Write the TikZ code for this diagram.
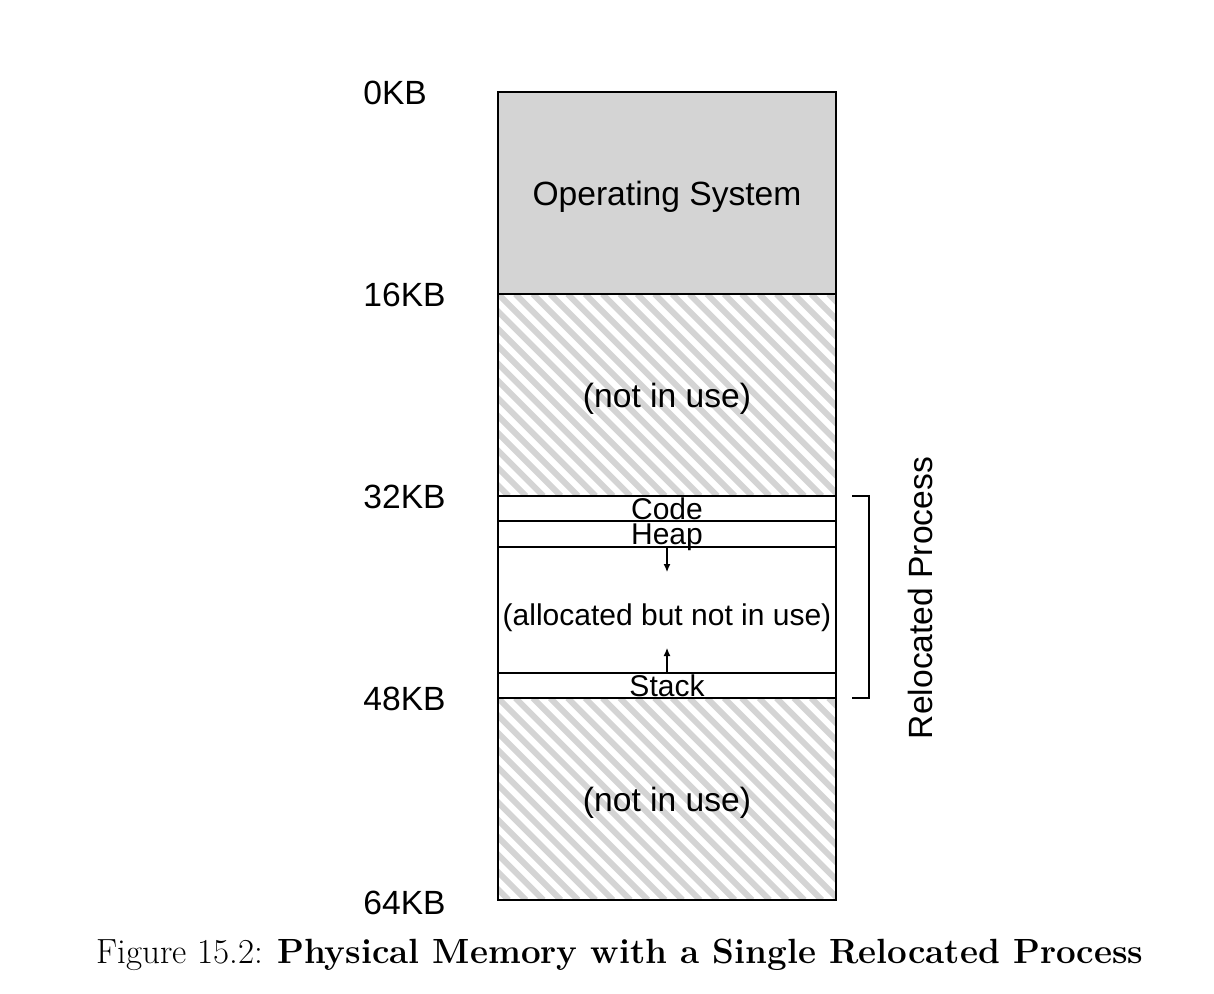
\documentclass[tikz,border=0pt]{standalone}
\usepackage{fontspec}
\newfontfamily\helv{Liberation Sans}
\usetikzlibrary{arrows.meta,positioning,calc}

\begin{document}
\begin{tikzpicture}[
    x=0.5pt, y=-0.5pt,
    >={Latex[length=4pt,width=3.5pt]},
    memseg/.style={draw, line width=1pt, minimum width=169pt, inner sep=0pt, outer sep=0pt, text depth=0pt, font=\helv\fontsize{16.8}{20}\selectfont},
    osseg/.style={memseg, fill=black!17, minimum height=101pt},
    hatchline/.style={line width=3pt, black!17},
    freeseg/.style={memseg, minimum height=101pt, path picture={
        \foreach \k in {-13,...,21}
            \draw[hatchline] ([xshift=\k*8.7pt]path picture bounding box.north west) -- ++(202,202);}},
    procseg/.style={memseg, line width=0.75pt, font=\helv\fontsize{15}{18}\selectfont},
    kblabel/.style={anchor=west, inner sep=0pt, font=\helv\fontsize{16.8}{20}\selectfont},
    arr/.style={->, line width=0.6pt}
]
    \useasboundingbox (0,0) rectangle (1214,994);

    % memory segments, top to bottom
    \node[osseg] (os) at (667,193) {Operating System};
    \node[freeseg, below=0pt of os] (free1) {(not in use)};
    \node[procseg, minimum height=12.5pt, below=0pt of free1] (code) {Code};
    \node[procseg, minimum height=13pt, below=0pt of code] (heap) {Heap};
    \node[procseg, minimum height=63pt, text height=15pt, below=0pt of heap] (gap) {(allocated but not in use)};
    \node[procseg, minimum height=12.5pt, below=0pt of gap] (stack) {Stack};
    \node[freeseg, below=0pt of stack] (free2) {(not in use)};
    \draw[line width=1.3pt] (os.north west) rectangle (free2.south east);

    % addresses
    \node[kblabel] (kb0) at (363,93) {0KB};
    \node[kblabel] (kb16) at (363,295) {16KB};
    \node[kblabel] (kb32) at (363,497) {32KB};
    \node[kblabel] (kb48) at (363,699) {48KB};
    \node[kblabel] (kb64) at (363,903) {64KB};

    % heap and stack growth
    \coordinate (heaptip) at ([yshift=-12.5pt]heap.south);
    \coordinate (stacktip) at ([yshift=12.5pt]stack.north);
    \draw[arr] (heap.south) -- (heaptip);
    \draw[arr] (stack.north) -- (stacktip);

    % bracket round the process
    \coordinate (btop) at ([xshift=8pt]code.north east);
    \coordinate (bbot) at ([xshift=8pt]stack.south east);
    \draw[line width=0.6pt] (btop) -- ++(17,0) |- (bbot);
    \node[rotate=90, font=\helv\fontsize{16.8}{20}\selectfont] (proc) at (920,598) {Relocated Process};

    \node[font=\fontsize{17.5}{21}\selectfont] (caption) at (620,955) {Figure 15.2: \textbf{Physical Memory with a Single Relocated Process}};
\end{tikzpicture}
\end{document}
